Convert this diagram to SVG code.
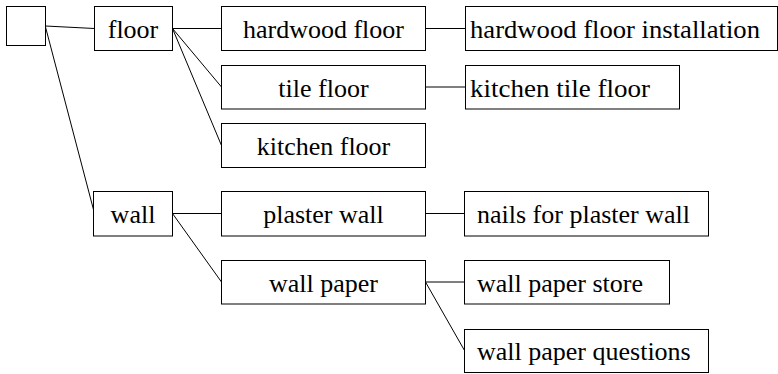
<svg xmlns="http://www.w3.org/2000/svg" width="778" height="374" viewBox="0 0 778 374">
<style>
rect{fill:#fff;stroke:#000;stroke-width:1}
line{stroke:#000;stroke-width:1}
text{font-family:"Liberation Serif","Times New Roman",serif;font-size:26px;fill:#000}
.c{text-anchor:middle}
</style>
<rect x="0" y="0" width="778" height="374" style="stroke:none"/>
<g id="connectors">
<line x1="45.5" y1="26" x2="94.5" y2="28.5"/>
<line x1="45.5" y1="27" x2="94.5" y2="213.5"/>
<line x1="172.5" y1="28.5" x2="221.5" y2="28.5"/>
<line x1="172.5" y1="28.5" x2="221.5" y2="87"/>
<line x1="172.5" y1="28.5" x2="221.5" y2="145.5"/>
<line x1="425.5" y1="28.5" x2="465.5" y2="28.5"/>
<line x1="425.5" y1="87" x2="465.5" y2="87"/>
<line x1="172.5" y1="213.5" x2="221.5" y2="213.5"/>
<line x1="172.5" y1="213.5" x2="221.5" y2="282"/>
<line x1="425.5" y1="213.5" x2="464.5" y2="213.5"/>
<line x1="425.5" y1="282" x2="464.5" y2="282"/>
<line x1="425.5" y1="282" x2="464.5" y2="350.5"/>
</g>
<g id="root"><rect x="6.5" y="6.5" width="39" height="39"/></g>
<g id="floor"><rect x="94.5" y="6.5" width="78" height="44"/><text class="c" x="133" y="37.5">floor</text></g>
<g id="hardwood-floor"><rect x="221.5" y="6.5" width="204" height="44"/><text class="c" x="323.5" y="37.5">hardwood floor</text></g>
<g id="hardwood-floor-installation"><rect x="465.5" y="6.5" width="312" height="44"/><text x="470" y="37.5" textLength="290" lengthAdjust="spacingAndGlyphs">hardwood floor installation</text></g>
<g id="tile-floor"><rect x="221.5" y="65.5" width="204" height="43.5"/><text class="c" x="323.5" y="96.5">tile floor</text></g>
<g id="kitchen-tile-floor"><rect x="465.5" y="65.5" width="214" height="43.5"/><text x="470" y="96.5" textLength="180" lengthAdjust="spacingAndGlyphs">kitchen tile floor</text></g>
<g id="kitchen-floor"><rect x="221.5" y="123.5" width="204" height="44"/><text class="c" x="323.5" y="154.5">kitchen floor</text></g>
<g id="wall"><rect x="93.5" y="191.5" width="79" height="44.5"/><text class="c" x="133" y="223">wall</text></g>
<g id="plaster-wall"><rect x="221.5" y="191.5" width="204" height="44.5"/><text class="c" x="323.5" y="223">plaster wall</text></g>
<g id="nails-for-plaster-wall"><rect x="464.5" y="191.5" width="244" height="44.5"/><text x="477" y="223">nails for plaster wall</text></g>
<g id="wall-paper"><rect x="221.5" y="260.5" width="204" height="43.5"/><text class="c" x="323.5" y="291.5">wall paper</text></g>
<g id="wall-paper-store"><rect x="464.5" y="260.5" width="205" height="43.5"/><text x="477" y="291.5">wall paper store</text></g>
<g id="wall-paper-questions"><rect x="464.5" y="329.5" width="244" height="43"/><text x="477" y="360">wall paper questions</text></g>
</svg>
